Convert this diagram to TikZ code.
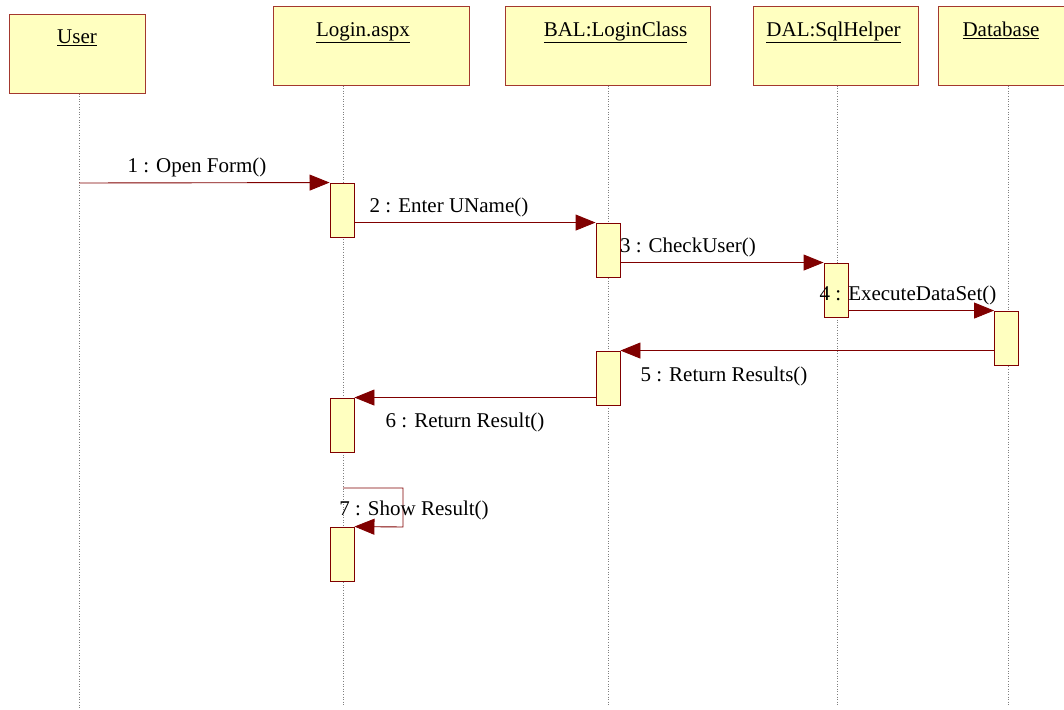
\documentclass[tikz,border=0pt]{standalone}
\usepackage{fontspec}
\setmainfont{Liberation Serif}
\usetikzlibrary{arrows.meta}
\definecolor{objfill}{HTML}{FFFFC0}
\definecolor{objline}{HTML}{A3382E}
\definecolor{msgline}{HTML}{800000}
\begin{document}
\begin{tikzpicture}[x=1pt,y=-1pt,
  font=\fontsize{21}{25}\selectfont,
  objbox/.style={draw=objline, fill=objfill, line width=1pt, minimum height=78pt, inner sep=0pt},
  objname/.style={anchor=base, inner sep=0pt},
  actbox/.style={draw=msgline, fill=objfill, line width=0.9pt, minimum width=24pt, minimum height=54pt, inner sep=0pt},
  lifeline/.style={draw=gray, line width=0.6pt, dotted},
  msg/.style={draw=msgline, line width=0.9pt, -{Triangle[length=20pt,width=16pt]}, color=msgline},
  msglabel/.style={anchor=base, inner sep=0pt, text=black}]
\useasboundingbox (0,0) rectangle (1064,709);

% object headers
\node[objbox, minimum width=136pt] (user) at (77,54) {};
\node[objbox, minimum width=196pt] (login) at (371,46) {};
\node[objbox, minimum width=205pt] (bal) at (607.5,46) {};
\node[objbox, minimum width=165pt] (dal) at (835.5,46) {};
\node[objbox, minimum width=132pt] (db) at (1004,46) {};

\node[objname] (userT) at ([yshift=-29pt]user.north) {\underline{User}};
\node[objname] (loginT) at ([xshift=-8pt,yshift=-30pt]login.north) {\underline{Login.aspx}};
\node[objname] (balT) at ([xshift=8pt,yshift=-30pt]bal.north) {\underline{BAL:LoginClass}};
\node[objname] (dalT) at ([xshift=-2pt,yshift=-30pt]dal.north) {\underline{DAL:SqlHelper}};
\node[objname] (dbT) at ([xshift=-3pt,yshift=-30pt]db.north) {\underline{Database}};

% lifeline ends
\coordinate (userEnd) at (79,709);
\coordinate (loginEnd) at (343,705);
\coordinate (balEnd) at (608,705);
\coordinate (dalEnd) at (837,705);
\coordinate (dbEnd) at (1008,705);

\draw[lifeline] (user.south -| userEnd) -- (userEnd);
\draw[lifeline] (login.south -| loginEnd) -- (loginEnd);
\draw[lifeline] (bal.south -| balEnd) -- (balEnd);
\draw[lifeline] (dal.south -| dalEnd) -- (dalEnd);
\draw[lifeline] (db.south -| dbEnd) -- (dbEnd);

% activations
\node[actbox] (la1) at (342,210) {};
\node[actbox] (ba1) at (608,250) {};
\node[actbox] (da1) at (836,290) {};
\node[actbox] (dba1) at (1006.5,338) {};
\node[actbox] (ba2) at (608,378) {};
\node[actbox] (la2) at (342,425) {};
\node[actbox] (la3) at (342,554) {};

% messages
\coordinate (m1start) at (79,183);
\draw[msg] (m1start) -- (la1.north west);
\node[msglabel] (l1) at (197,172) {1 : Open Form()};

\draw[msg] (la1.east |- ba1.north west) -- (ba1.north west);
\node[msglabel] (l2) at (449,212) {2 : Enter UName()};

\draw[msg] (ba1.east |- da1.north west) -- (da1.north west);
\node[msglabel] (l3) at (688,252) {3 : CheckUser()};

\draw[msg] (da1.east |- dba1.north west) -- (dba1.north west);
\node[msglabel] (l4) at (908,300) {4 : ExecuteDataSet()};

\draw[msg] (dba1.west |- ba2.north east) -- (ba2.north east);
\node[msglabel] (l5) at (724,381) {5 : Return Results()};

\draw[msg] (ba2.west |- la2.north east) -- (la2.north east);
\node[msglabel] (l6) at (465,427) {6 : Return Result()};

\coordinate (m7start) at (343,488);
\draw[msg] (m7start) -- (403,488) -- (403,527) -- (la3.north east);
\node[msglabel] (l7) at (414,515) {7 : Show Result()};
\end{tikzpicture}
\end{document}
